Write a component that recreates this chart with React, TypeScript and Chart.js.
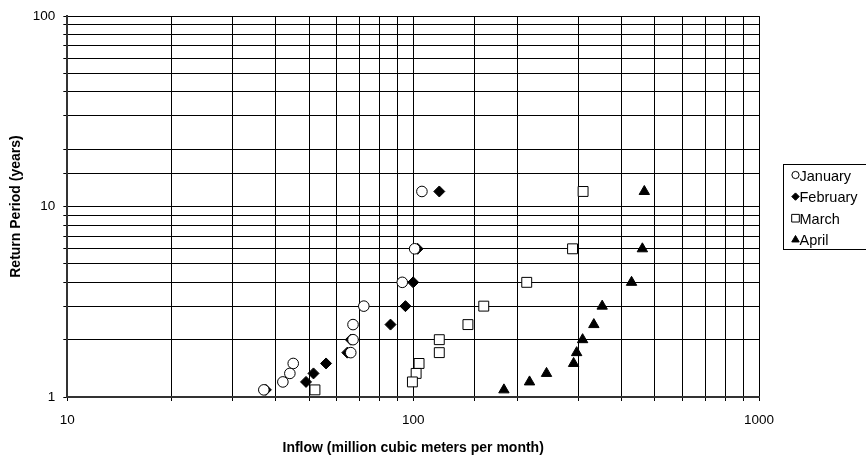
import React, { useEffect, useRef } from "react";
import { Chart, registerables } from "chart.js";
import { drawPoint } from "chart.js/helpers";

Chart.register(...registerables);

const returnPeriods = [12, 6, 4, 3, 2.4, 2, 1.71, 1.5, 1.33, 1.2, 1.09];
const januaryInflow = [106, 101, 93, 72, 67, 67, 66, 45, 44, 42, 37];
const februaryInflow = [119, 103, 100, 95, 86, 66, 64.5, 56, 51.5, 49, 37.5];
const marchInflow = [310, 289, 213, 160, 144, 119, 119, 104, 102, 99.5, 52];
const aprilInflow = [466, 460, 428, 352, 333, 309, 297, 291, 243, 217, 183];
const xMajorTicks = [10, 100, 1000];
const yMajorTicks = [1, 10, 100];
const legendRadius = [3.6, 3.7, 5.4, 4.3];

const toPoints = (xs: number[]) => xs.map((x, i) => ({ x, y: returnPeriods[i] }));

const FONT = "'Liberation Sans', Arial, sans-serif";

const boxedLegend = {
  id: "boxedLegend",
  afterDraw(chart: any) {
    const ctx = chart.ctx;
    const boxLeft = 783;
    const boxTop = 164;
    const boxBottom = 249;
    ctx.save();
    ctx.fillStyle = "#fff";
    ctx.fillRect(boxLeft, boxTop, 870 - boxLeft, boxBottom - boxTop);
    ctx.strokeStyle = "#000";
    ctx.lineWidth = 1;
    ctx.strokeRect(boxLeft + 0.5, boxTop + 0.5, 870 - boxLeft, boxBottom - boxTop);
    ctx.font = `14.5px ${FONT}`;
    ctx.textAlign = "left";
    ctx.textBaseline = "middle";
    chart.data.datasets.forEach((ds: any, i: number) => {
      const cy = 176.5 + i * 21.6;
      ctx.fillStyle = ds.pointBackgroundColor;
      ctx.strokeStyle = ds.pointBorderColor;
      ctx.lineWidth = 1;
      drawPoint(ctx, { pointStyle: ds.pointStyle, radius: legendRadius[i], rotation: 0, borderWidth: 1 } as any, 795.5, cy - 1.5);
      ctx.fillStyle = "#000";
      ctx.fillText(ds.label, 799.5, cy);
    });
    ctx.restore();
  },
};

export default function App() {
  const ref = useRef<HTMLCanvasElement>(null);
  useEffect(() => {
    document.body.style.margin = "0";
    const mk = (label: string, xs: number[], style: string, fill: boolean, radius: number) => ({
      label,
      data: toPoints(xs),
      pointStyle: style,
      pointRadius: radius,
      pointHoverRadius: radius,
      pointBackgroundColor: fill ? "#000" : "#fff",
      backgroundColor: fill ? "#000" : "#fff",
      pointBorderColor: "#000",
      borderColor: "#000",
      pointBorderWidth: 1,
      borderWidth: 1,
      showLine: false,
    });
    const chart = new Chart(ref.current!, {
      type: "scatter",
      data: {
        datasets: [
          mk("January", januaryInflow, "circle", false, 5.3),
          mk("February", februaryInflow, "rectRot", true, 5.5),
          mk("March", marchInflow, "rect", false, 7),
          mk("April", aprilInflow, "triangle", true, 6),
        ],
      },
      options: {
        animation: false,
        responsive: false,
        layout: { padding: { left: 4, top: 16, right: 107, bottom: 0 } },
        plugins: {
          tooltip: { enabled: false },
          legend: { display: false },
        },
        scales: {
          x: {
            type: "logarithmic",
            min: 10,
            max: 1000,
            grid: { color: "#000", lineWidth: 1, tickLength: 4, drawTicks: true },
            border: { color: "#333", width: 2 },
            ticks: {
              autoSkip: false,
              maxRotation: 0,
              padding: 11.4,
              color: "#000",
              font: { family: FONT, size: 13.5 },
              callback: (v: any) => (xMajorTicks.includes(Number(v)) ? String(v) : ""),
            },
            title: {
              display: true,
              text: "Inflow (million cubic meters per month)",
              color: "#000",
              font: { family: FONT, size: 14, weight: "bold" },
              padding: { top: 0.2, bottom: 0 },
            },
          },
          y: {
            type: "logarithmic",
            min: 1,
            max: 100,
            grid: { color: "#000", lineWidth: 1, tickLength: 4 },
            border: { color: "#333", width: 2 },
            ticks: {
              autoSkip: false,
              padding: 8,
              color: "#000",
              font: { family: FONT, size: 13.5 },
              callback: (v: any) => (yMajorTicks.includes(Number(v)) ? String(v) : ""),
            },
            title: {
              display: true,
              text: "Return Period (years)",
              color: "#000",
              font: { family: FONT, size: 14, weight: "bold" },
              padding: { top: 4, bottom: 0 },
            },
          },
        },
      },
      plugins: [boxedLegend],
    });
    return () => chart.destroy();
  }, []);
  return (
    <div style={{ position: "absolute", left: 0, top: 0, width: 866, height: 457 }}>
      <canvas ref={ref} width={866} height={457} />
    </div>
  );
}
